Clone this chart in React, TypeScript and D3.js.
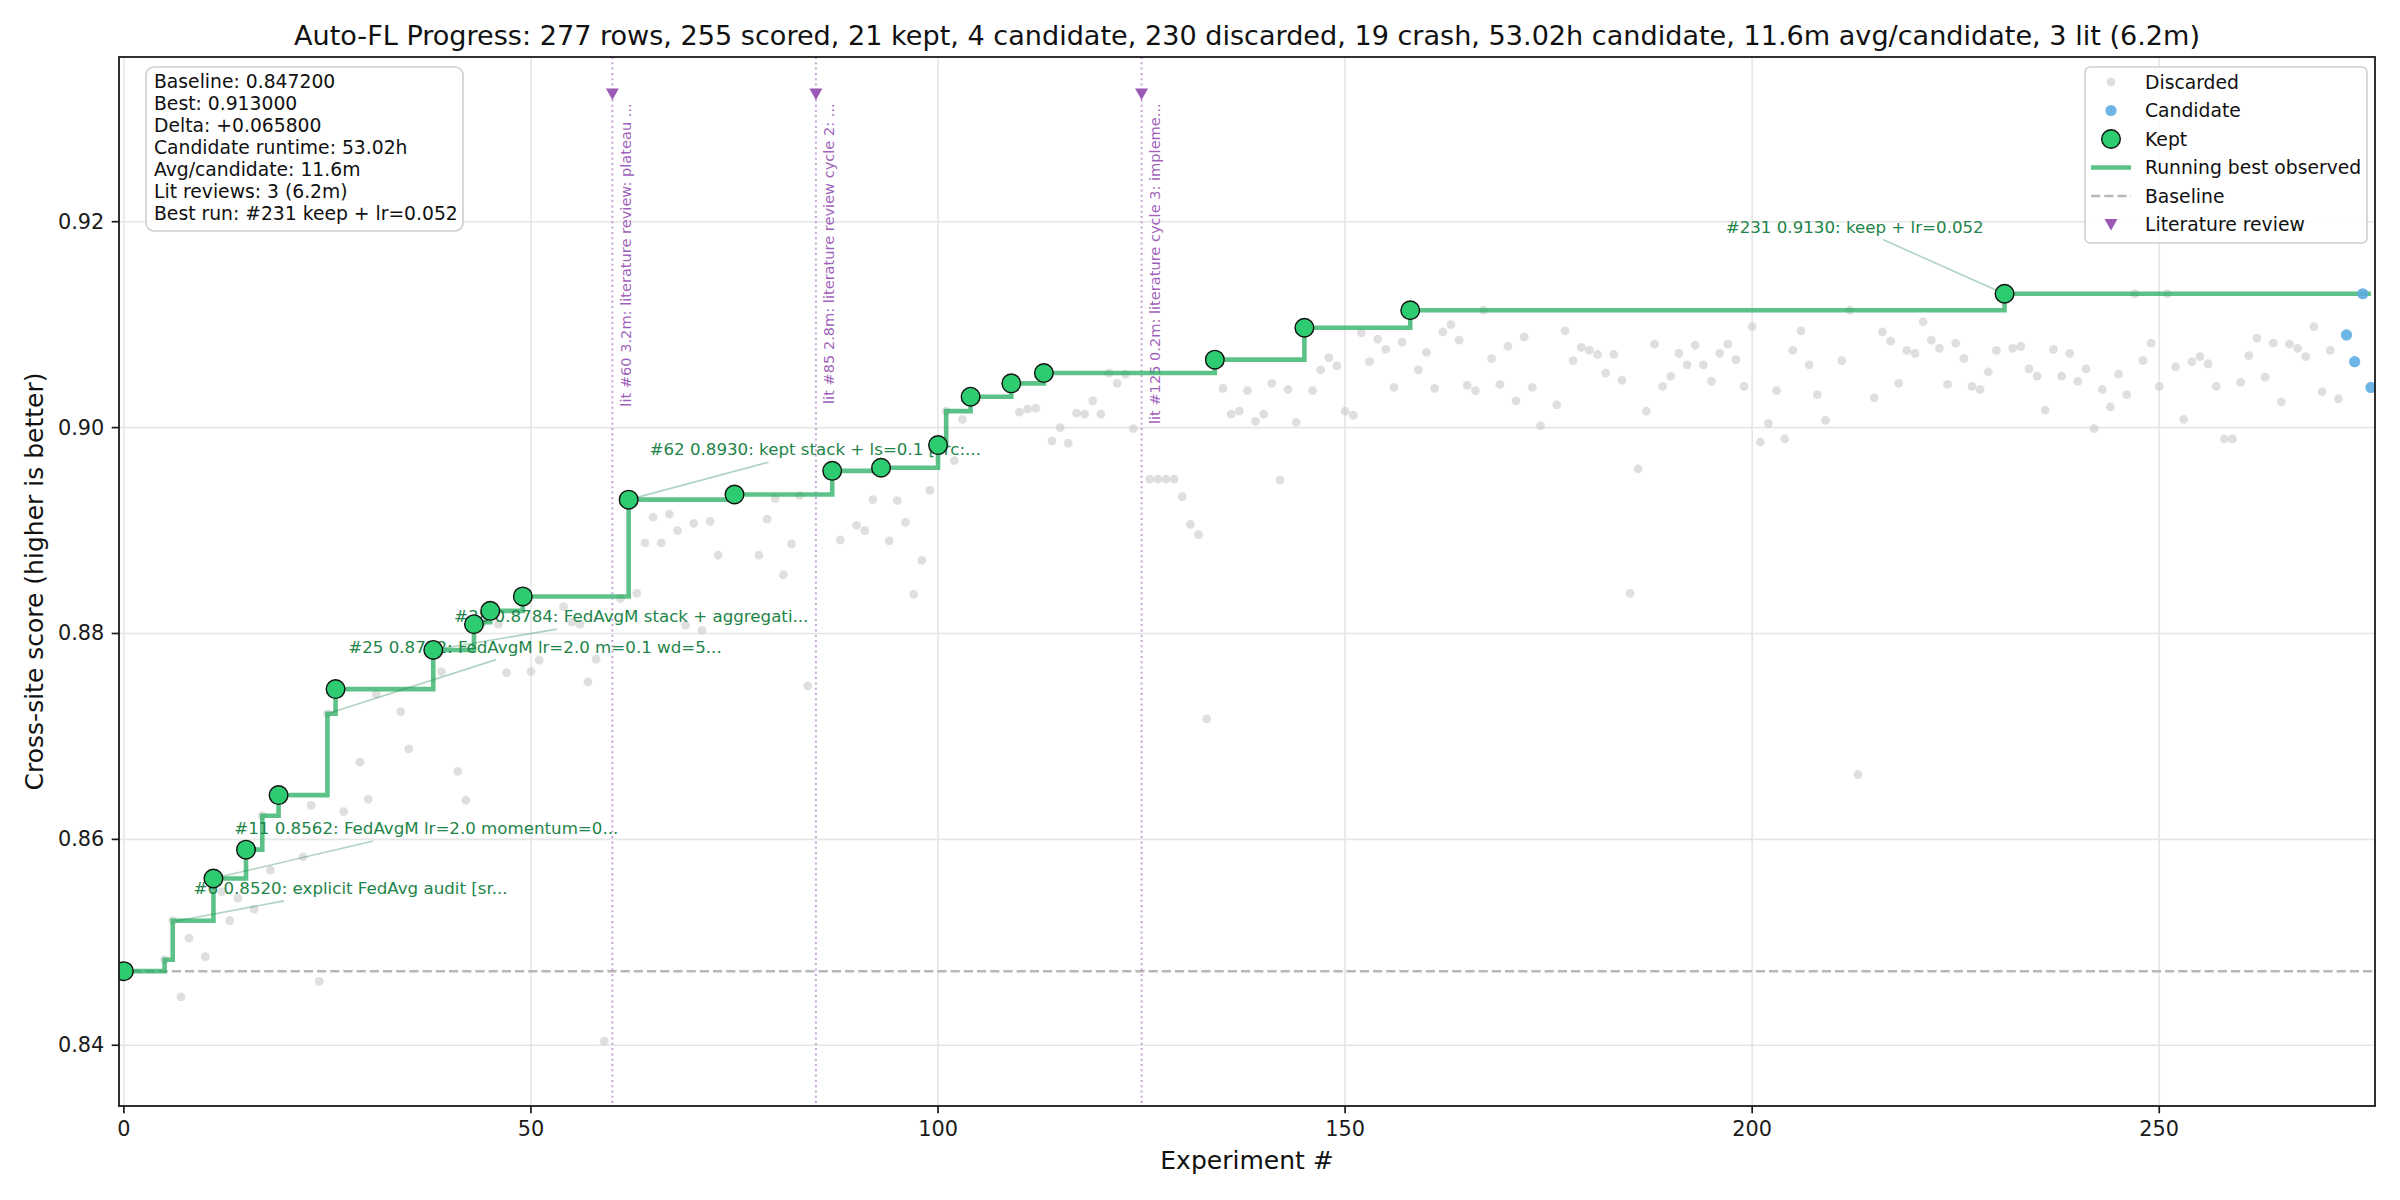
import React, { useEffect, useRef } from 'react';
import * as d3 from 'd3';

// ---------- data ----------
const keptX = [0, 11, 15, 19, 26, 38, 43, 45, 49, 62, 75, 87, 93, 100, 104, 109, 113, 134, 145, 158, 231];
const keptY = [0.8472, 0.8562, 0.8590, 0.8643, 0.8746, 0.8784, 0.8809, 0.8822, 0.8836, 0.8930, 0.8935, 0.8958, 0.8961, 0.8983, 0.9030, 0.9043, 0.9053, 0.9066, 0.9097, 0.9114, 0.9130];

const candX = [273, 274, 275, 276];
const candY = [0.9090, 0.9064, 0.9130, 0.9039];

const discX = [
  5, 6, 7, 8, 10, 12, 13, 14, 16, 17, 18, 22, 23, 24, 25, 27, 29, 30, 31, 34, 35, 39, 41, 42, 44, 46, 47, 50, 51, 54, 55, 56, 57, 58, 59,
  61, 63, 64, 65, 66, 67, 68, 69, 70, 71, 72, 73, 78, 79, 80, 81, 82, 83, 84, 88, 90, 91, 92, 94, 95, 96, 97, 98, 99, 101, 102, 103,
  110, 111, 112, 114, 115, 116, 117, 118, 119, 120, 121, 122, 123, 124, 126, 127, 128, 129, 130, 131, 132, 133,
  135, 136, 137, 138, 139, 140, 141, 142, 143, 144, 146, 147, 148, 149, 150, 151, 152, 153, 154, 155, 156, 157,
  159, 160, 161, 162, 163, 164, 165, 166, 167, 168, 169, 170, 171, 172, 173, 174,
  176, 177, 178, 179, 180, 181, 182, 183, 184, 185, 186, 187, 188, 189, 190, 191, 192, 193, 194, 195, 196, 197, 198, 199,
  200, 201, 202, 203, 204, 205, 206, 207, 208, 209, 211, 212, 213, 215, 216, 217, 218, 219, 220, 221, 222, 223, 224, 225,
  226, 227, 228, 229, 230, 232, 233, 234, 235, 236, 237, 238, 239, 240, 241, 242, 243, 244, 245, 246, 247, 248, 249, 250,
  251, 252, 253, 254, 255, 256, 257, 258, 259, 260, 261, 262, 263, 264, 265, 266, 267, 268, 269, 270, 271, 272,
];
const discY = [
  0.8483, 0.8521, 0.8447, 0.8504, 0.8486, 0.8549, 0.8521, 0.8543, 0.8532, 0.8623, 0.8570, 0.8583, 0.8633, 0.8462, 0.8722, 0.8627, 0.8675, 0.8639, 0.8741, 0.8724, 0.8688, 0.8763, 0.8666, 0.8638, 0.8811, 0.8809, 0.8762, 0.8763, 0.8774, 0.8826, 0.8811, 0.8809, 0.8753, 0.8775, 0.8404,
  0.8834, 0.8839, 0.8888, 0.8913, 0.8888, 0.8916, 0.8900, 0.8808, 0.8907, 0.8803, 0.8909, 0.8876, 0.8876, 0.8911, 0.8931, 0.8857, 0.8887, 0.8934, 0.8749, 0.8891, 0.8905, 0.8900, 0.8930, 0.8890, 0.8929, 0.8908, 0.8838, 0.8871, 0.8939, 0.9016, 0.8968, 0.9008,
  0.9015, 0.9018, 0.9019, 0.8987, 0.9000, 0.8985, 0.9014, 0.9013, 0.9026, 0.9013, 0.9053, 0.9043, 0.9052, 0.8999, 0.8950, 0.8950, 0.8950, 0.8950, 0.8933, 0.8906, 0.8896, 0.8717,
  0.9038, 0.9013, 0.9016, 0.9036, 0.9006, 0.9013, 0.9043, 0.8949, 0.9037, 0.9005, 0.9036, 0.9056, 0.9068, 0.9060, 0.9016, 0.9012, 0.9092, 0.9064, 0.9086, 0.9076, 0.9039, 0.9083,
  0.9056, 0.9073, 0.9038, 0.9093, 0.9100, 0.9085, 0.9041, 0.9036, 0.9114, 0.9067, 0.9042, 0.9079, 0.9026, 0.9088, 0.9039, 0.9002,
  0.9022, 0.9094, 0.9065, 0.9078, 0.9075, 0.9071, 0.9053, 0.9071, 0.9046, 0.8839, 0.8960, 0.9016, 0.9081, 0.9040, 0.9050, 0.9072, 0.9061, 0.9080, 0.9061, 0.9045, 0.9072, 0.9081, 0.9066, 0.9040,
  0.9098, 0.8986, 0.9004, 0.9036, 0.8989, 0.9075, 0.9094, 0.9061, 0.9032, 0.9007, 0.9065, 0.9114, 0.8663, 0.9029, 0.9093, 0.9084, 0.9043, 0.9075, 0.9072, 0.9103, 0.9085, 0.9077, 0.9042, 0.9082,
  0.9067, 0.9040, 0.9037, 0.9054, 0.9075, 0.9077, 0.9079, 0.9057, 0.9050, 0.9017, 0.9076, 0.9050, 0.9072, 0.9045, 0.9057, 0.8999, 0.9037, 0.9020, 0.9052, 0.9032, 0.9130, 0.9065, 0.9082, 0.9040,
  0.9130, 0.9059, 0.9008, 0.9064, 0.9069, 0.9062, 0.9040, 0.8989, 0.8989, 0.9044, 0.9070, 0.9087, 0.9049, 0.9082, 0.9025, 0.9081, 0.9077, 0.9069, 0.9098, 0.9035, 0.9075, 0.9028,
];

const baselineValue = 0.8472;

const litX = [60, 85, 125];
const litLabels = [
  'lit #60 3.2m: literature review: plateau ...',
  'lit #85 2.8m: literature review cycle 2: ...',
  'lit #125 0.2m: literature cycle 3: impleme...',
];

const annX = [6, 11, 25, 38, 62, 231];
const annY = [0.8520, 0.8562, 0.8722, 0.8784, 0.8930, 0.9130];
const annLabels = [
  '#6 0.8520: explicit FedAvg audit [sr...',
  '#11 0.8562: FedAvgM lr=2.0 momentum=0...',
  '#25 0.8722: FedAvgM lr=2.0 m=0.1 wd=5...',
  '#38 0.8784: FedAvgM stack + aggregati...',
  '#62 0.8930: kept stack + ls=0.1 [src:...',
  '#231 0.9130: keep + lr=0.052',
];

const statsLines = [
  'Baseline: 0.847200',
  'Best: 0.913000',
  'Delta: +0.065800',
  'Candidate runtime: 53.02h',
  'Avg/candidate: 11.6m',
  'Lit reviews: 3 (6.2m)',
  'Best run: #231 keep + lr=0.052',
];

const legendLabels = ['Discarded', 'Candidate', 'Kept', 'Running best observed', 'Baseline', 'Literature review'];

const xTicks = [0, 50, 100, 150, 200, 250];
const yTicks = [0.84, 0.86, 0.88, 0.90, 0.92];

const titleText =
  'Auto-FL Progress: 277 rows, 255 scored, 21 kept, 4 candidate, 230 discarded, 19 crash, 53.02h candidate, 11.6m avg/candidate, 3 lit (6.2m)';

// ---------- style ----------
const FONT = 'DejaVu Sans';
const PT = 150 / 72;
const C_DISC = '#c4c4c4';
const C_CAND = '#5dade2';
const C_KEPT = '#2ecc71';
const C_LINE = '#27ae60';
const C_LIT = '#9b59b6';
const C_ANN = '#1e8449';

export default function App() {
  const ref = useRef<SVGSVGElement>(null);

  useEffect(() => {
    document.body.style.margin = '0';
    const svg = d3.select(ref.current as SVGSVGElement);
    svg.selectAll('*').remove();

    const L = 119, R = 2375, T = 57, B = 1106;
    const x = d3.scaleLinear().domain([-0.6, 276.5]).range([L, R]);
    const y = d3.scaleLinear().domain([0.8341, 0.936]).range([B, T]);

    svg.append('rect').attr('width', 2400).attr('height', 1200).attr('fill', '#fff');

    const defs = svg.append('defs');
    defs.append('clipPath').attr('id', 'plotclip').append('rect')
      .attr('x', L).attr('y', T).attr('width', R - L).attr('height', B - T);

    // grid
    const grid = svg.append('g');
    grid.selectAll('line.gx').data(xTicks).enter().append('line')
      .attr('x1', (d) => x(d)).attr('x2', (d) => x(d)).attr('y1', T).attr('y2', B)
      .attr('stroke', '#e6e6e6').attr('stroke-width', 1.6);
    grid.selectAll('line.gy').data(yTicks).enter().append('line')
      .attr('y1', (d) => y(d)).attr('y2', (d) => y(d)).attr('x1', L).attr('x2', R)
      .attr('stroke', '#e6e6e6').attr('stroke-width', 1.6);

    const plot = svg.append('g').attr('clip-path', 'url(#plotclip)');

    // baseline
    plot.append('line')
      .attr('x1', L).attr('x2', R).attr('y1', y(baselineValue)).attr('y2', y(baselineValue))
      .attr('stroke', '#b8b8b8').attr('stroke-width', 2.5).attr('stroke-dasharray', '9.2,4');

    // literature reviews
    litX.forEach((lx, i) => {
      plot.append('line')
        .attr('x1', x(lx)).attr('x2', x(lx)).attr('y1', T).attr('y2', B)
        .attr('stroke', C_LIT).attr('stroke-opacity', 0.55).attr('stroke-width', 2)
        .attr('stroke-dasharray', '2,3.3');
      const tx = x(lx), ty = y(0.9324);
      plot.append('path')
        .attr('d', `M${tx - 6.5},${ty - 5.5}L${tx + 6.5},${ty - 5.5}L${tx},${ty + 6}Z`)
        .attr('fill', C_LIT);
      plot.append('text')
        .attr('transform', `translate(${tx + 18.5},${y(0.9315)}) rotate(-90)`)
        .attr('text-anchor', 'end')
        .attr('font-family', FONT).attr('font-size', 7 * PT)
        .attr('fill', '#8e44ad').attr('fill-opacity', 0.85)
        .text(litLabels[i]);
    });

    // discarded
    plot.selectAll('circle.disc').data(discX).enter().append('circle')
      .attr('cx', (d) => x(d)).attr('cy', (_d, i) => y(discY[i])).attr('r', 4.4)
      .attr('fill', C_DISC).attr('fill-opacity', 0.55);

    // running best
    const all: [number, number][] = [];
    keptX.forEach((v, i) => all.push([v, keptY[i]]));
    discX.forEach((v, i) => all.push([v, discY[i]]));
    candX.forEach((v, i) => all.push([v, candY[i]]));
    all.sort((a, b) => a[0] - b[0]);
    let best = -Infinity;
    const running: [number, number][] = all.map(([vx, vy]) => {
      best = Math.max(best, vy);
      return [vx, best];
    });
    const line = d3.line<[number, number]>().x((d) => x(d[0])).y((d) => y(d[1])).curve(d3.curveStepAfter);
    plot.append('path').attr('d', line(running) as string)
      .attr('fill', 'none').attr('stroke', C_LINE).attr('stroke-opacity', 0.75)
      .attr('stroke-width', 4.6).attr('stroke-linejoin', 'miter');

    // annotations
    const offs = [16, 24, 32];
    annX.forEach((ax, i) => {
      const px = x(ax), py = y(annY[i]);
      const right = ax > 200;
      const tx = px + (right ? -10 : 10) * PT;
      const ty = py - offs[i % 3] * PT;
      const g = plot.append('g');
      const lineSel = g.append('line');
      const t = g.append('text')
        .attr('x', tx).attr('y', ty)
        .attr('text-anchor', right ? 'end' : 'start')
        .attr('dominant-baseline', 'central')
        .attr('font-family', FONT).attr('font-size', 8 * PT)
        .attr('fill', C_ANN)
        .text(annLabels[i]);
      const bb = (t.node() as SVGTextElement).getBBox();
      const cx = bb.x + bb.width / 2, cy = bb.y + bb.height / 2;
      const dx = px - cx, dy = py - cy;
      const hw = bb.width / 2 + 3, hh = bb.height / 2 + 3;
      const s = Math.min(dx !== 0 ? hw / Math.abs(dx) : Infinity, dy !== 0 ? hh / Math.abs(dy) : Infinity);
      const len = Math.hypot(dx, dy);
      lineSel
        .attr('x1', cx + dx * s).attr('y1', cy + dy * s)
        .attr('x2', px - (dx / len) * 4).attr('y2', py - (dy / len) * 4)
        .attr('stroke', C_ANN).attr('stroke-opacity', 0.35).attr('stroke-width', 1.6);
    });

    // kept
    plot.selectAll('circle.kept').data(keptX).enter().append('circle')
      .attr('cx', (d) => x(d)).attr('cy', (_d, i) => y(keptY[i])).attr('r', 9.3)
      .attr('fill', C_KEPT).attr('stroke', '#111').attr('stroke-width', 1.4);

    // candidates
    plot.selectAll('circle.cand').data(candX).enter().append('circle')
      .attr('cx', (d) => x(d)).attr('cy', (_d, i) => y(candY[i])).attr('r', 5.6)
      .attr('fill', C_CAND).attr('fill-opacity', 0.9);

    // spines
    svg.append('rect').attr('x', L).attr('y', T).attr('width', R - L).attr('height', B - T)
      .attr('fill', 'none').attr('stroke', '#1a1a1a').attr('stroke-width', 1.8);

    // ticks
    const ax = svg.append('g').attr('font-family', FONT).attr('font-size', 10 * PT).attr('fill', '#1a1a1a');
    xTicks.forEach((v) => {
      ax.append('line').attr('x1', x(v)).attr('x2', x(v)).attr('y1', B).attr('y2', B + 7.3)
        .attr('stroke', '#1a1a1a').attr('stroke-width', 1.7);
      ax.append('text').attr('x', x(v)).attr('y', B + 22.5).attr('text-anchor', 'middle')
        .attr('dominant-baseline', 'central').text(String(v));
    });
    yTicks.forEach((v) => {
      ax.append('line').attr('x1', L - 7.3).attr('x2', L).attr('y1', y(v)).attr('y2', y(v))
        .attr('stroke', '#1a1a1a').attr('stroke-width', 1.7);
      ax.append('text').attr('x', L - 14.6).attr('y', y(v)).attr('text-anchor', 'end')
        .attr('dominant-baseline', 'central').text(d3.format('.2f')(v));
    });

    // axis labels
    svg.append('text').attr('x', (L + R) / 2).attr('y', 1160).attr('text-anchor', 'middle')
      .attr('dominant-baseline', 'central').attr('font-family', FONT).attr('font-size', 12 * PT)
      .attr('fill', '#111').text('Experiment #');
    svg.append('text').attr('transform', `translate(34,${(T + B) / 2}) rotate(-90)`)
      .attr('text-anchor', 'middle').attr('dominant-baseline', 'central')
      .attr('font-family', FONT).attr('font-size', 12 * PT).attr('fill', '#111')
      .text('Cross-site score (higher is better)');

    // title
    svg.append('text').attr('x', (L + R) / 2).attr('y', 45).attr('text-anchor', 'middle')
      .attr('font-family', FONT).attr('font-size', 13 * PT).attr('fill', '#111').text(titleText);

    // stats box
    const sb = svg.append('g');
    sb.append('rect').attr('x', 146).attr('y', 67).attr('width', 317).attr('height', 164)
      .attr('rx', 8).attr('fill', '#fff').attr('fill-opacity', 0.88)
      .attr('stroke', '#cfcfcf').attr('stroke-width', 1.6);
    statsLines.forEach((s, i) => {
      sb.append('text').attr('x', 154).attr('y', 81 + i * 22).attr('dominant-baseline', 'central')
        .attr('font-family', FONT).attr('font-size', 9 * PT).attr('fill', '#111').text(s);
    });

    // legend
    const lg = svg.append('g');
    lg.append('rect').attr('x', 2085).attr('y', 67).attr('width', 282).attr('height', 176)
      .attr('rx', 5).attr('fill', '#fff').attr('fill-opacity', 0.85)
      .attr('stroke', '#d0d0d0').attr('stroke-width', 1.6);
    const hx = 2111;
    legendLabels.forEach((lab, i) => {
      const cy = 82 + i * 28.5;
      if (i === 0) lg.append('circle').attr('cx', hx).attr('cy', cy).attr('r', 4.4).attr('fill', C_DISC).attr('fill-opacity', 0.55);
      if (i === 1) lg.append('circle').attr('cx', hx).attr('cy', cy).attr('r', 5.6).attr('fill', C_CAND).attr('fill-opacity', 0.9);
      if (i === 2) lg.append('circle').attr('cx', hx).attr('cy', cy).attr('r', 9.3).attr('fill', C_KEPT).attr('stroke', '#111').attr('stroke-width', 1.4);
      if (i === 3) lg.append('line').attr('x1', hx - 20).attr('x2', hx + 20).attr('y1', cy).attr('y2', cy)
        .attr('stroke', C_LINE).attr('stroke-opacity', 0.75).attr('stroke-width', 4.6);
      if (i === 4) lg.append('line').attr('x1', hx - 20).attr('x2', hx + 20).attr('y1', cy).attr('y2', cy)
        .attr('stroke', '#b8b8b8').attr('stroke-width', 2.5).attr('stroke-dasharray', '9.2,4');
      if (i === 5) lg.append('path')
        .attr('d', `M${hx - 6.5},${cy - 5.5}L${hx + 6.5},${cy - 5.5}L${hx},${cy + 6}Z`).attr('fill', C_LIT);
      lg.append('text').attr('x', 2145).attr('y', cy).attr('dominant-baseline', 'central')
        .attr('font-family', FONT).attr('font-size', 9 * PT).attr('fill', '#111').text(lab);
    });
  }, []);

  return <svg ref={ref} width={2400} height={1200} style={{ display: 'block', background: '#fff' }} />;
}
